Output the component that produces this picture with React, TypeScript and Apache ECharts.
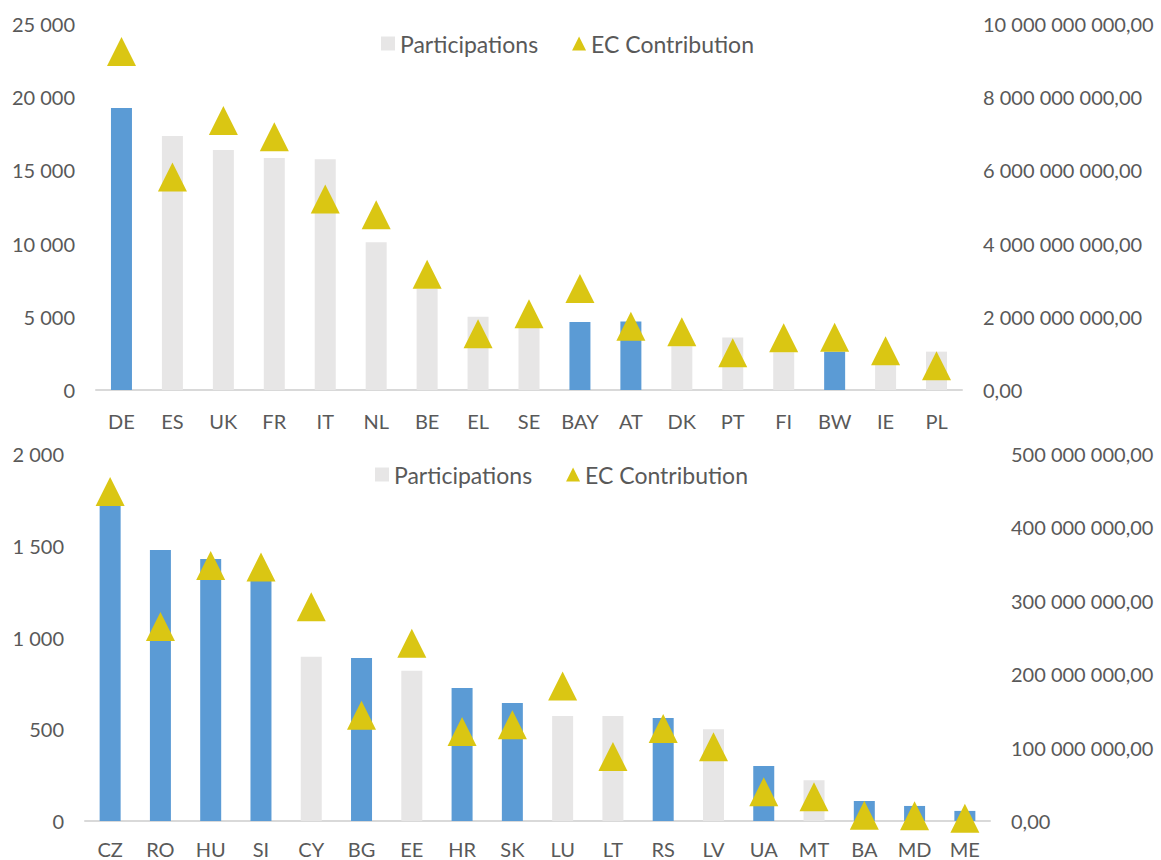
import React, { useEffect, useRef } from "react";
import * as echarts from "echarts";

const topCategories = ["DE", "ES", "UK", "FR", "IT", "NL", "BE", "EL", "SE", "BAY", "AT", "DK", "PT", "FI", "BW", "IE", "PL"];
const topParticipations = [19260, 17350, 16390, 15850, 15760, 10090, 6920, 5010, 4250, 4650, 4680, 2980, 3580, 2580, 2620, 1700, 2620];
const topContribution = [9.25e9, 5.82e9, 7.36e9, 6.92e9, 5.22e9, 4.79e9, 3.16e9, 1.54e9, 2.08e9, 2.77e9, 1.74e9, 1.59e9, 1.02e9, 1.43e9, 1.44e9, 1.07e9, 0.66e9];
const topHighlighted = ["DE", "BAY", "AT", "BW"];

const bottomCategories = ["CZ", "RO", "HU", "SI", "CY", "BG", "EE", "HR", "SK", "LU", "LT", "RS", "LV", "UA", "MT", "BA", "MD", "ME"];
const bottomParticipations = [1720, 1477, 1428, 1310, 895, 888, 819, 725, 643, 572, 572, 561, 500, 300, 222, 109, 82, 55];
const bottomContribution = [4.49e8, 2.65e8, 3.48e8, 3.46e8, 2.92e8, 1.44e8, 2.42e8, 1.22e8, 1.31e8, 1.84e8, 0.88e8, 1.26e8, 1.01e8, 0.4e8, 0.33e8, 0.078e8, 0.07e8, 0.037e8];
const bottomHighlighted = ["CZ", "RO", "HU", "SI", "BG", "HR", "SK", "RS", "UA", "BA", "MD", "ME"];

const seriesNames = ["Participations", "EC Contribution"];

const BLUE = "#5B9BD5";
const GREY = "#E7E6E6";
const GOLD = "#DAC613";
const TEXT = "#595959";
const FONT = "Lato";

function groupThousands(n: number): string {
  const s = Math.round(n).toString();
  return s.replace(/\B(?=(\d{3})+(?!\d))/g, " ");
}
const leftFmt = (v: number) => groupThousands(v);
const rightFmt = (v: number) => groupThousands(v) + ",00";

export default function App() {
  const ref = useRef<HTMLDivElement>(null);
  useEffect(() => {
    if (!ref.current) return;
    const chart = echarts.init(ref.current, null, { renderer: "svg" });
    const axisLabel = { color: TEXT, fontFamily: FONT, fontSize: 20 };
    const makeBars = (cats: string[], vals: number[], hl: string[]) =>
      vals.map((v, i) => ({ value: v, itemStyle: { color: hl.includes(cats[i]) ? BLUE : GREY } }));
    const legendCommon = {
      itemWidth: 14,
      itemHeight: 14,
      itemGap: 34,
      textStyle: { color: TEXT, fontFamily: FONT, fontSize: 23 },
      data: [
        { name: seriesNames[0], icon: "rect" },
        { name: seriesNames[1], icon: "triangle" },
      ],
    };
    chart.setOption({
      animation: false,
      backgroundColor: "#ffffff",
      textStyle: { fontFamily: FONT },
      legend: [
        { ...legendCommon, left: 376, top: 27 },
        { ...legendCommon, left: 370, top: 458 },
      ],
      grid: [
        { left: 96, right: 1161 - 962, top: 24, height: 366 },
        { left: 85, right: 1161 - 990, top: 454, height: 367 },
      ],
      xAxis: [
        {
          type: "category", gridIndex: 0, data: topCategories,
          axisLine: { lineStyle: { color: "#D9D9D9", width: 2 } },
          axisTick: { show: false },
          axisLabel: { ...axisLabel, margin: 21 },
        },
        {
          type: "category", gridIndex: 1, data: bottomCategories,
          axisLine: { lineStyle: { color: "#D9D9D9", width: 2 } },
          axisTick: { show: false },
          axisLabel: { ...axisLabel, margin: 18 },
        },
      ],
      yAxis: [
        {
          type: "value", gridIndex: 0, min: 0, max: 25000, interval: 5000,
          axisLabel: { ...axisLabel, margin: 21, formatter: leftFmt },
          splitLine: { show: false }, axisLine: { show: false }, axisTick: { show: false },
        },
        {
          type: "value", gridIndex: 0, min: 0, max: 1e10, interval: 2e9, position: "right",
          axisLabel: { ...axisLabel, margin: 21, formatter: rightFmt },
          splitLine: { show: false }, axisLine: { show: false }, axisTick: { show: false },
        },
        {
          type: "value", gridIndex: 1, min: 0, max: 2000, interval: 500,
          axisLabel: { ...axisLabel, margin: 21, formatter: leftFmt },
          splitLine: { show: false }, axisLine: { show: false }, axisTick: { show: false },
        },
        {
          type: "value", gridIndex: 1, min: 0, max: 5e8, interval: 1e8, position: "right",
          axisLabel: { ...axisLabel, margin: 21, formatter: rightFmt },
          splitLine: { show: false }, axisLine: { show: false }, axisTick: { show: false },
        },
      ],
      series: [
        {
          name: seriesNames[0], type: "bar", xAxisIndex: 0, yAxisIndex: 0, barWidth: 21,
          itemStyle: { color: GREY },
          data: makeBars(topCategories, topParticipations, topHighlighted),
        },
        {
          name: seriesNames[1], type: "scatter", xAxisIndex: 0, yAxisIndex: 1,
          symbol: "triangle", symbolSize: [29, 29],
          itemStyle: { color: GOLD, opacity: 1 },
          data: topContribution,
        },
        {
          name: seriesNames[0], type: "bar", xAxisIndex: 1, yAxisIndex: 2, barWidth: 21,
          itemStyle: { color: GREY },
          data: makeBars(bottomCategories, bottomParticipations, bottomHighlighted),
        },
        {
          name: seriesNames[1], type: "scatter", xAxisIndex: 1, yAxisIndex: 3,
          symbol: "triangle", symbolSize: [29, 29],
          itemStyle: { color: GOLD, opacity: 1 },
          data: bottomContribution,
        },
      ],
    });
    return () => chart.dispose();
  }, []);
  return (
    <div
      ref={ref}
      style={{ position: "fixed", left: 0, top: 0, width: 1161, height: 860, background: "#fff" }}
    />
  );
}
